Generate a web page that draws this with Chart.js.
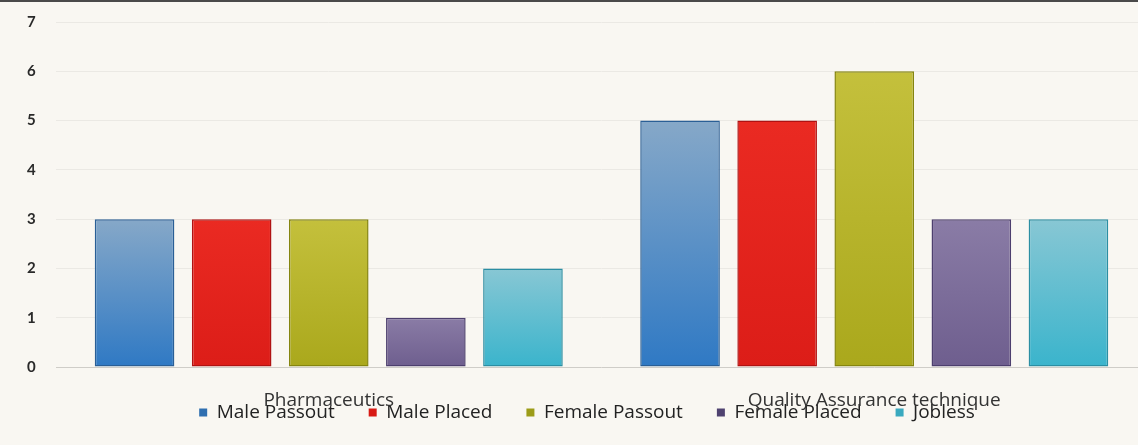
<!DOCTYPE html>
<html>
<head>
<meta charset="utf-8">
<script src="https://cdn.jsdelivr.net/npm/chart.js@4.4.1/dist/chart.umd.min.js"></script>
<style>
  html, body { margin: 0; padding: 0; background: #f9f7f2; overflow: hidden; }
  #wrap { position: relative; width: 1150px; height: 445px; }
  #topline { position: absolute; left: 0; top: 0; width: 1138px; height: 2px; background: #4a4a4a; z-index: 2; }
</style>
</head>
<body>
<div id="topline"></div>
<div id="wrap"><canvas id="c"></canvas></div>
<script>
const categories = ['Pharmaceutics', 'Quality Assurance technique'];
const seriesNames = ['Male Passout', 'Male Placed', 'Female Passout', 'Female Placed', 'Jobless'];
const malePassout   = [3, 5];
const malePlaced    = [3, 5];
const femalePassout = [3, 6];
const femalePlaced  = [1, 3];
const jobless       = [2, 3];
const yTicks = [0, 1, 2, 3, 4, 5, 6, 7];

const seriesValues = [malePassout, malePlaced, femalePassout, femalePlaced, jobless];
// [top colour, bottom colour, border, legend swatch]
const palette = [
  ['#86a8c8', '#2f79c4', '#2a5f96', '#2f6fb0'],
  ['#ea2a22', '#dc1d18', '#b01212', '#d81a14'],
  ['#c4c03c', '#aaa81c', '#85850f', '#9c9c18'],
  ['#8a7ca6', '#6e5e8e', '#4d3f6e', '#4f4270'],
  ['#88c7d4', '#3ab4cc', '#2b8ea3', '#3aa9bf']
];

function grad(i) {
  return function (ctx) {
    const chart = ctx.chart;
    const area = chart.chartArea;
    if (!area || ctx.type !== 'data') return palette[i][3];
    const y = chart.scales.y;
    const top = y.getPixelForValue(ctx.parsed.y);
    const bottom = y.getPixelForValue(0);
    if (!isFinite(top) || top === bottom) return palette[i][1];
    const g = chart.ctx.createLinearGradient(0, top, 0, bottom);
    g.addColorStop(0, palette[i][0]);
    g.addColorStop(1, palette[i][1]);
    return g;
  };
}

const datasets = seriesNames.map((name, i) => ({
  label: name,
  data: seriesValues[i],
  backgroundColor: grad(i),
  borderColor: palette[i][2],
  borderWidth: 1.5,
  borderSkipped: false,
  categoryPercentage: 0.89,
  barPercentage: 0.82
}));

const labelOverlap = {
  id: 'labelOverlap',
  afterLayout(chart) { chart.scales.x.bottom = chart.height; }
};

new Chart(document.getElementById('c'), {
  type: 'bar',
  data: { labels: categories, datasets },
  plugins: [labelOverlap],
  options: {
    responsive: true,
    maintainAspectRatio: false,
    animation: false,
    layout: { padding: { top: 22, left: 27, right: 3, bottom: 13 } },
    plugins: {
      tooltip: { enabled: false },
      legend: {
        position: 'bottom',
        labels: {
          boxWidth: 8,
          boxHeight: 8,
          padding: 34,
          color: '#222',
          font: { family: 'Open Sans', size: 19 },
          generateLabels(chart) {
            return chart.data.datasets.map((d, i) => ({
              text: d.label,
              fillStyle: palette[i][3],
              strokeStyle: palette[i][3],
              lineWidth: 0,
              fontColor: '#222',
              hidden: false,
              datasetIndex: i
            }));
          }
        }
      }
    },
    scales: {
      x: {
        grid: { display: false, drawTicks: false },
        border: { display: false },
        ticks: { color: '#333', padding: 22, font: { family: 'Open Sans', size: 19 } },
        afterFit(scale) { scale.height = 2; }
      },
      y: {
        min: 0,
        max: 7,
        afterBuildTicks(scale) { scale.ticks = yTicks.map(v => ({ value: v })); },
        afterFit(scale) { scale.width = 29; },
        grid: {
          drawTicks: false,
          color: (c) => c.tick && c.tick.value === 0 ? '#cfcdc8' : '#ebe9e4',
          lineWidth: 1
        },
        border: { display: false },
        ticks: { color: '#2a2a2a', padding: 0, crossAlign: 'far', font: { family: 'Lato', size: 15, weight: 'bold' } }
      }
    }
  }
});
</script>
</body>
</html>
